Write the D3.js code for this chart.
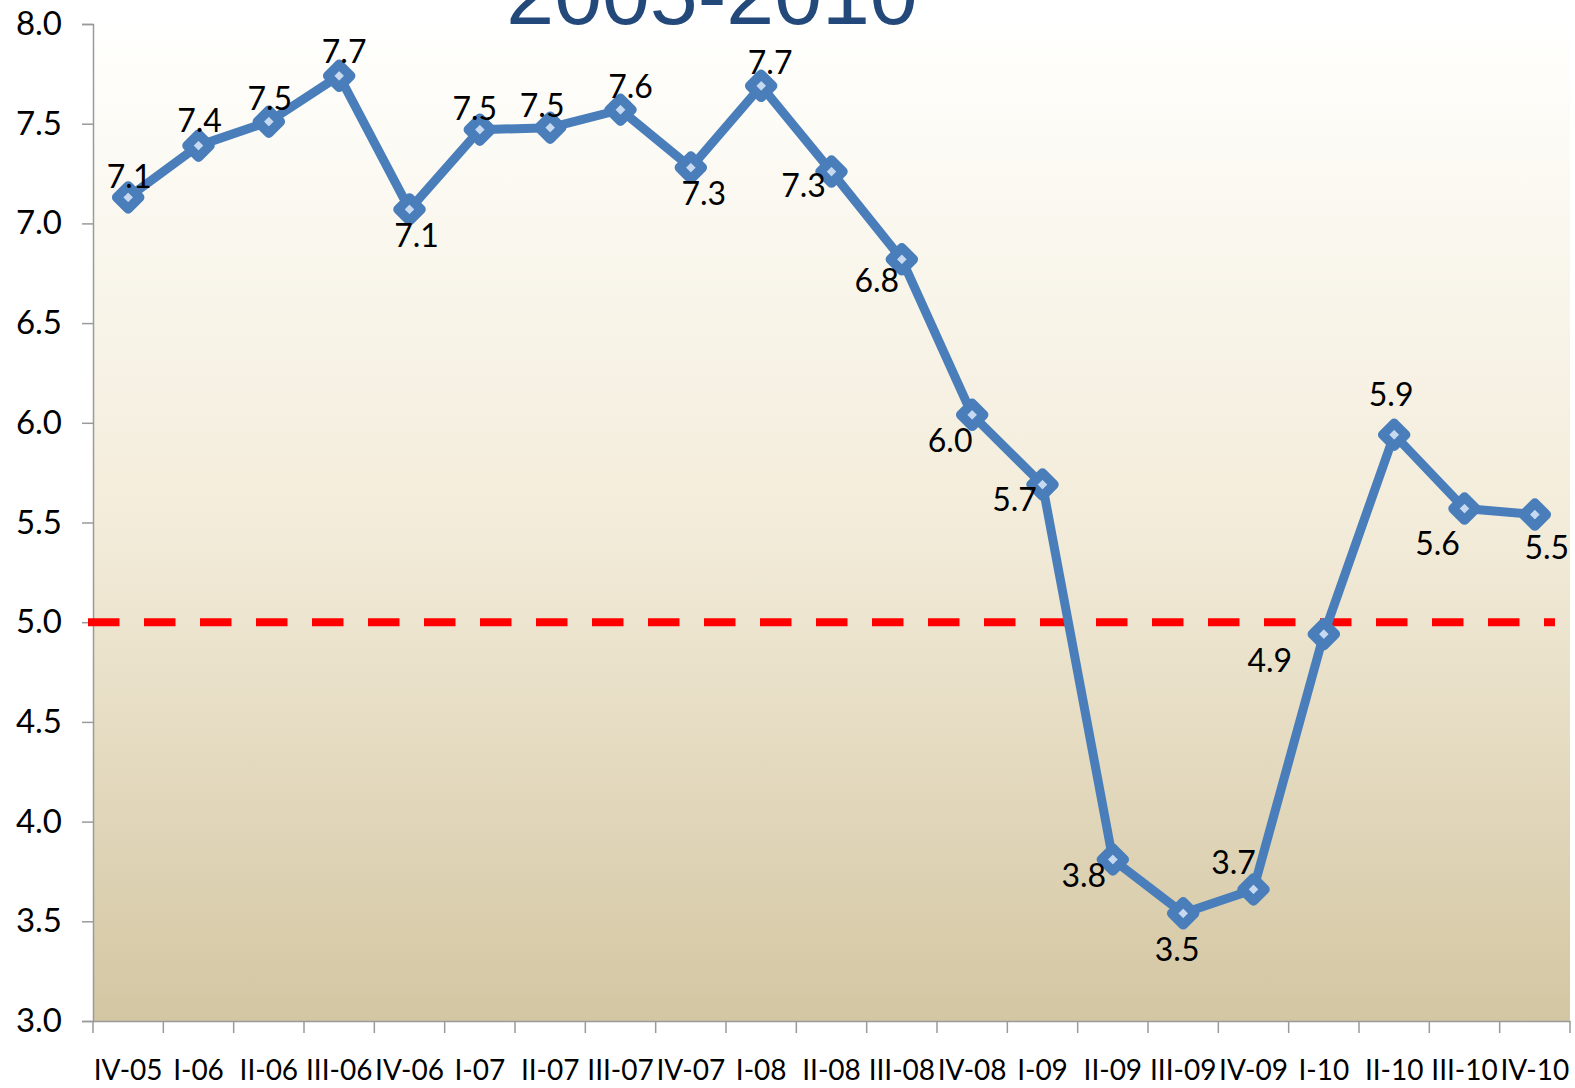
<!DOCTYPE html>
<html>
<head>
<meta charset="utf-8">
<script src="https://cdn.jsdelivr.net/npm/d3@7"></script>
<style>
  html, body { margin: 0; padding: 0; background: #ffffff; }
  svg { display: block; }
</style>
</head>
<body>
<svg id="chart" width="1575" height="1088"></svg>
<script>
// ---- data ----
const categories = ["IV-05","I-06","II-06","III-06","IV-06","I-07","II-07","III-07","IV-07","I-08","II-08","III-08","IV-08","I-09","II-09","III-09","IV-09","I-10","II-10","III-10","IV-10"];
const values = [7.13, 7.39, 7.51, 7.74, 7.07, 7.47, 7.48, 7.57, 7.28, 7.69, 7.26, 6.82, 6.04, 5.69, 3.81, 3.54, 3.66, 4.94, 5.94, 5.57, 5.54];
const valueLabels = ["7.1","7.4","7.5","7.7","7.1","7.5","7.5","7.6","7.3","7.7","7.3","6.8","6.0","5.7","3.8","3.5","3.7","4.9","5.9","5.6","5.5"];
const yTicks = [3.0, 3.5, 4.0, 4.5, 5.0, 5.5, 6.0, 6.5, 7.0, 7.5, 8.0];
const thresholdValue = 5.0;
const titleText = "2005-2010";

// label offsets (layout only)
const labelOffsets = [[1,-22],[1,-26],[1,-24],[5,-25],[7,25],[-5,-22],[-8,-23],[10,-24],[13,25],[9,-24],[-28,13],[-25,20],[-22,25],[-28,14],[-29,15],[-6,35],[-20,-28],[-54,25],[-3,-41],[-27,34],[12,32]];

// ---- layout ----
const svg = d3.select("#chart");
const plot = { left: 93, right: 1570, top: 24, bottom: 1021 };

const x = d3.scaleBand().domain(categories).range([plot.left, plot.right]).paddingInner(0).paddingOuter(0);
const y = d3.scaleLinear().domain([3, 8]).range([plot.bottom, plot.top]);
const cx = c => x(c) + x.bandwidth() / 2;

// background gradient
const defs = svg.append("defs");
const grad = defs.append("linearGradient").attr("id", "bg").attr("x1", 0).attr("y1", 0).attr("x2", 0).attr("y2", 1);
grad.append("stop").attr("offset", "0%").attr("stop-color", "#fffffd");
grad.append("stop").attr("offset", "50%").attr("stop-color", "#f3ecda");
grad.append("stop").attr("offset", "100%").attr("stop-color", "#d3c6a2");

svg.append("rect")
  .attr("x", plot.left).attr("y", plot.top)
  .attr("width", plot.right - plot.left).attr("height", plot.bottom - plot.top)
  .attr("fill", "url(#bg)");

// title (cut at top, as in the reference)
svg.append("text")
  .attr("x", 712).attr("y", 24)
  .attr("text-anchor", "middle")
  .attr("font-family", "'Liberation Sans', Arial, sans-serif")
  .attr("font-size", 86)
  .attr("fill", "#23497b")
  .text(titleText);

const fontFam = "Lato, 'Open Sans', sans-serif";

// axes
const yAxis = d3.axisLeft(y).tickValues(yTicks).tickFormat(d3.format(".1f")).tickSize(11).tickPadding(20);
const gy = svg.append("g").attr("transform", `translate(${plot.left},0)`).call(yAxis);
gy.select(".domain").attr("stroke", "#9a9a9a").attr("stroke-width", 1.5);
gy.selectAll(".tick line").attr("stroke", "#9a9a9a").attr("stroke-width", 1.5);
gy.selectAll(".tick text")
  .attr("font-family", fontFam)
  .attr("font-size", 33)
  .attr("fill", "#000");

const xAxis = d3.axisBottom(x).tickSize(0).tickPadding(0);
const gx = svg.append("g").attr("transform", `translate(0,${plot.bottom})`).call(xAxis);
gx.select(".domain").attr("stroke", "#9a9a9a").attr("stroke-width", 1.5);
gx.selectAll(".tick text")
  .attr("font-family", fontFam)
  .attr("font-size", 28)
  .attr("fill", "#000")
  .attr("dy", 0)
  .attr("y", 59);
// boundary ticks between categories
const boundaries = categories.map(c => x(c)).concat([plot.right]);
svg.append("g").selectAll("line").data(boundaries).join("line")
  .attr("x1", d => d).attr("x2", d => d)
  .attr("y1", plot.bottom).attr("y2", plot.bottom + 12)
  .attr("stroke", "#9a9a9a").attr("stroke-width", 1.5);

// red dashed threshold
svg.append("line")
  .attr("x1", 88).attr("x2", 1555)
  .attr("y1", y(thresholdValue)).attr("y2", y(thresholdValue))
  .attr("stroke", "#ff0000").attr("stroke-width", 8)
  .attr("stroke-dasharray", "31.5 24.5");

// line
const pts = categories.map((c, i) => ({ c, v: values[i], l: valueLabels[i], o: labelOffsets[i] }));
const line = d3.line().x(d => cx(d.c)).y(d => y(d.v));
svg.append("path").datum(pts)
  .attr("d", line)
  .attr("fill", "none")
  .attr("stroke", "#4a7ebb")
  .attr("stroke-width", 9)
  .attr("stroke-linejoin", "round");

// markers
const h = 11.5;
const diamond = `M0,${-h}L${h},0L0,${h}L${-h},0Z`;
svg.append("g").selectAll("path").data(pts).join("path")
  .attr("transform", d => `translate(${cx(d.c)},${y(d.v)})`)
  .attr("d", diamond)
  .attr("fill", "#c6d9f1")
  .attr("stroke", "#4a7ebb")
  .attr("stroke-width", 9.5)
  .attr("stroke-linejoin", "round");

// data labels
svg.append("g").selectAll("text").data(pts).join("text")
  .attr("x", d => cx(d.c) + d.o[0])
  .attr("y", d => y(d.v) + d.o[1])
  .attr("text-anchor", "middle")
  .attr("dominant-baseline", "central")
  .attr("font-family", fontFam)
  .attr("font-size", 32)
  .attr("fill", "#000")
  .text(d => d.l);
</script>
</body>
</html>
